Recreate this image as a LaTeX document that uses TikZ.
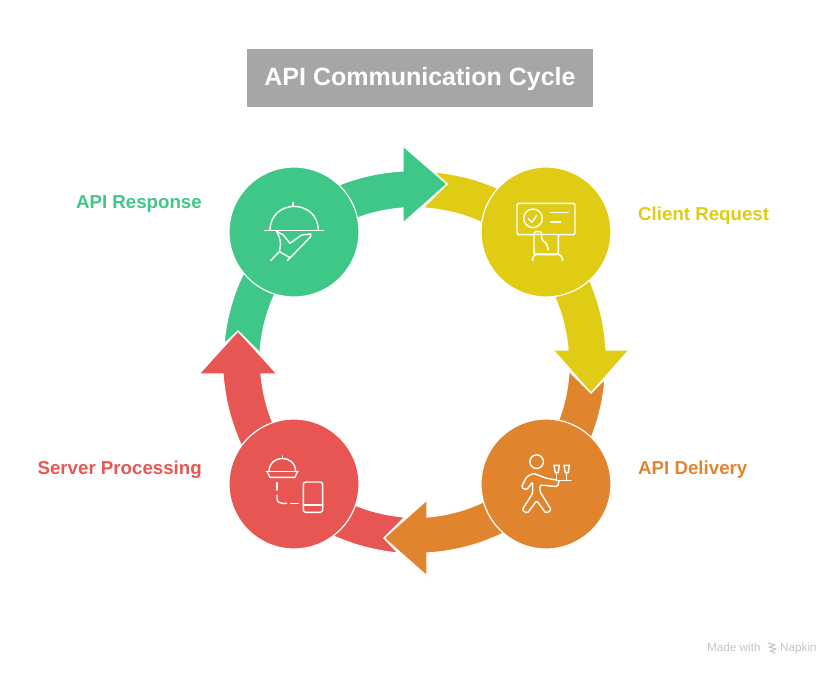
\documentclass[tikz,border=0pt]{standalone}
\usepackage{fontspec}
\setmainfont{Liberation Sans}
\usetikzlibrary{arrows}
\definecolor{respgreen}{HTML}{3EC787}
\definecolor{reqyellow}{HTML}{E0CC14}
\definecolor{delorange}{HTML}{E0842E}
\definecolor{procred}{HTML}{E75652}
\definecolor{titlegray}{HTML}{A6A6A6}
\definecolor{footgray}{HTML}{C4C4C4}

\begin{document}
\begin{tikzpicture}[x=1pt,y=-1pt,node distance=252pt,
  main node/.style={circle,minimum size=130pt,inner sep=0pt,draw=white,line width=1.2pt},
  band/.style={draw=white,line width=1.2pt,line join=miter},
  icon/.style={draw=white,line width=1.4pt,line cap=round,line join=round},
  side label/.style={inner sep=0pt,font=\bfseries\fontsize{18.7}{20}\selectfont},
  foot text/.style={text=footgray,anchor=base west,inner sep=0pt,font=\fontsize{11.7}{13}\selectfont}]

 \useasboundingbox (0,0) rectangle (840,675);

 \node[fill=titlegray,minimum width=346pt,minimum height=58pt,inner sep=0pt,text=white,
   text height=17.5pt,text depth=3.5pt,
   font=\bfseries\fontsize{25}{28}\selectfont] (title) at (420,78) {API Communication Cycle};

 % head tips, the next band's tail is notched to each of them
 \coordinate (tipresp) at (447,184);
 \coordinate (tipreq) at (591,393);
 \coordinate (tipdel) at (384,538);
 \coordinate (tipproc) at (238,331);

 \path[band,fill=reqyellow] (434,172) to[bend left=41] (606,350) -- (629,350) -- (tipreq)
    -- (553,350) -- (568,350) to[bend right=41] (423,208) -- (tipresp) -- cycle;
 \path[band,fill=delorange] (605,379) to[bend left=41] (427,553) -- (427,576) -- (tipdel)
    -- (427,500) -- (427,517) to[bend right=41] (569,371) -- (tipreq) -- cycle;
 \path[band,fill=procred] (398,553) to[bend left=40] (223,374) -- (199,374) -- (tipproc)
    -- (277,374) -- (261,374) to[bend right=40] (405,517) -- (tipdel) -- cycle;
 \path[band,fill=respgreen] (224,344) to[bend left=41] (403,171) -- (403,146) -- (tipresp)
    -- (403,223) -- (403,208) to[bend right=41] (260,353) -- (tipproc) -- cycle;

 \node[main node,fill=respgreen] (resp) at (294,232) {};
 \node[main node,fill=reqyellow] (req) [right of=resp] {};
 \node[main node,fill=delorange] (del) [below of=req] {};
 \node[main node,fill=procred] (proc) [left of=del] {};

 \node[side label,text=respgreen,anchor=east] (resplabel) at (202,204) {API Response};
 \node[side label,text=reqyellow,anchor=west] (reqlabel) at (638,216) {Client Request};
 \node[side label,text=delorange,anchor=west] (dellabel) at (638,470) {API Delivery};
 \node[side label,text=procred,anchor=east] (proclabel) at (202,470) {Server Processing};

 % cloche and hand
 \begin{scope}[shift={(220,140)},x=0.3333pt,y=-0.3333pt]
  \draw[icon] (133,272) -- (310,272);
  \draw[icon] (150,272) .. controls (150,175) and (295,175) .. (295,272);
  \draw[icon] (219,188) -- (219,197);
  \draw[icon] (170,275) .. controls (185,300) and (182,320) .. (178,335) -- (152,362);
  \draw[icon] (178,335) -- (208,352);
  \draw[icon] (202,362) -- (272,290) -- (272,282) -- (245,285) -- (210,310) -- (190,285) -- (172,275);
 \end{scope}

 % card and finger
 \begin{scope}[shift={(420,160)},x=0.3333pt,y=-0.3333pt]
  \draw[icon,rounded corners=1.5pt] (291,130) rectangle (465,224);
  \draw[icon] (339,175) circle[radius=9.3pt];
  \draw[icon] (325,176) -- (336,187) -- (350,166);
  \draw[icon] (392,158) -- (445,158);
  \draw[icon] (392,186) -- (422,186);
  \draw[icon,fill=reqyellow,draw=none] (343,225) rectangle (414,281);
  \draw[icon,rounded corners=2pt] (342,282) -- (342,215) -- (365,215) -- (365,240) -- (380,250) -- (385,270);
  \draw[icon,rounded corners=2pt] (342,262) -- (342,282) -- (415,282) -- (415,226);
  \draw[icon] (338,302) -- (338,295) .. controls (338,288) and (345,284) .. (350,284) -- (415,284)
     .. controls (420,284) and (427,288) .. (427,295) -- (427,302);
 \end{scope}

 % waiter with tray
 \begin{scope}[shift={(380,370)},x=0.3333pt,y=-0.3333pt]
  \draw[icon] (470,275) circle[radius=6.8pt];
  \draw[icon] (530,332) -- (573,332);
  \draw[icon] (522,286) -- (538,286) -- (535,308) -- (526,308) -- cycle;
  \draw[icon] (552,286) -- (568,286) -- (565,308) -- (556,308) -- cycle;
  \draw[icon] (530,308) -- (530,332);
  \draw[icon] (560,308) -- (560,332);
  \draw[icon,rounded corners=1.5pt] (537,333) -- (533,350) -- (480,345) -- (480,365) -- (514,420)
     -- (498,430) -- (470,392) -- (442,430) -- (426,420) -- (458,370) -- (458,335)
     -- (440,360) -- (424,352) -- (440,320) -- (460,310) -- (500,325) -- (530,330);
 \end{scope}

 % cloche, dashes and phone
 \begin{scope}[shift={(190,330)},x=0.3333pt,y=-0.3333pt]
  \draw[icon] (228,425) -- (325,425);
  \draw[icon] (237,425) .. controls (237,372) and (317,372) .. (317,425);
  \draw[icon] (277,378) -- (277,386);
  \draw[icon] (232,426) -- (240,442) -- (315,442) -- (322,426);
  \draw[icon] (261,458) -- (261,480);
  \draw[icon] (261,495) -- (261,505) .. controls (261,515) and (268,520) .. (276,520) -- (290,520);
  \draw[icon] (302,520) -- (325,520);
  \draw[icon,rounded corners=2.5pt] (340,456) rectangle (398,547);
  \draw[icon] (340,525) -- (398,525);
 \end{scope}

 % footer
 \node[foot text] (made) at (707,651) {Made with};
 \node[foot text] (napkin) at (780,651) {Napkin};
 \draw[footgray,line width=1.1pt,line join=round] (768,643) -- (775,645) -- (769,647) -- (776,649) -- (770,651) -- (775,653);

\end{tikzpicture}
\end{document}
